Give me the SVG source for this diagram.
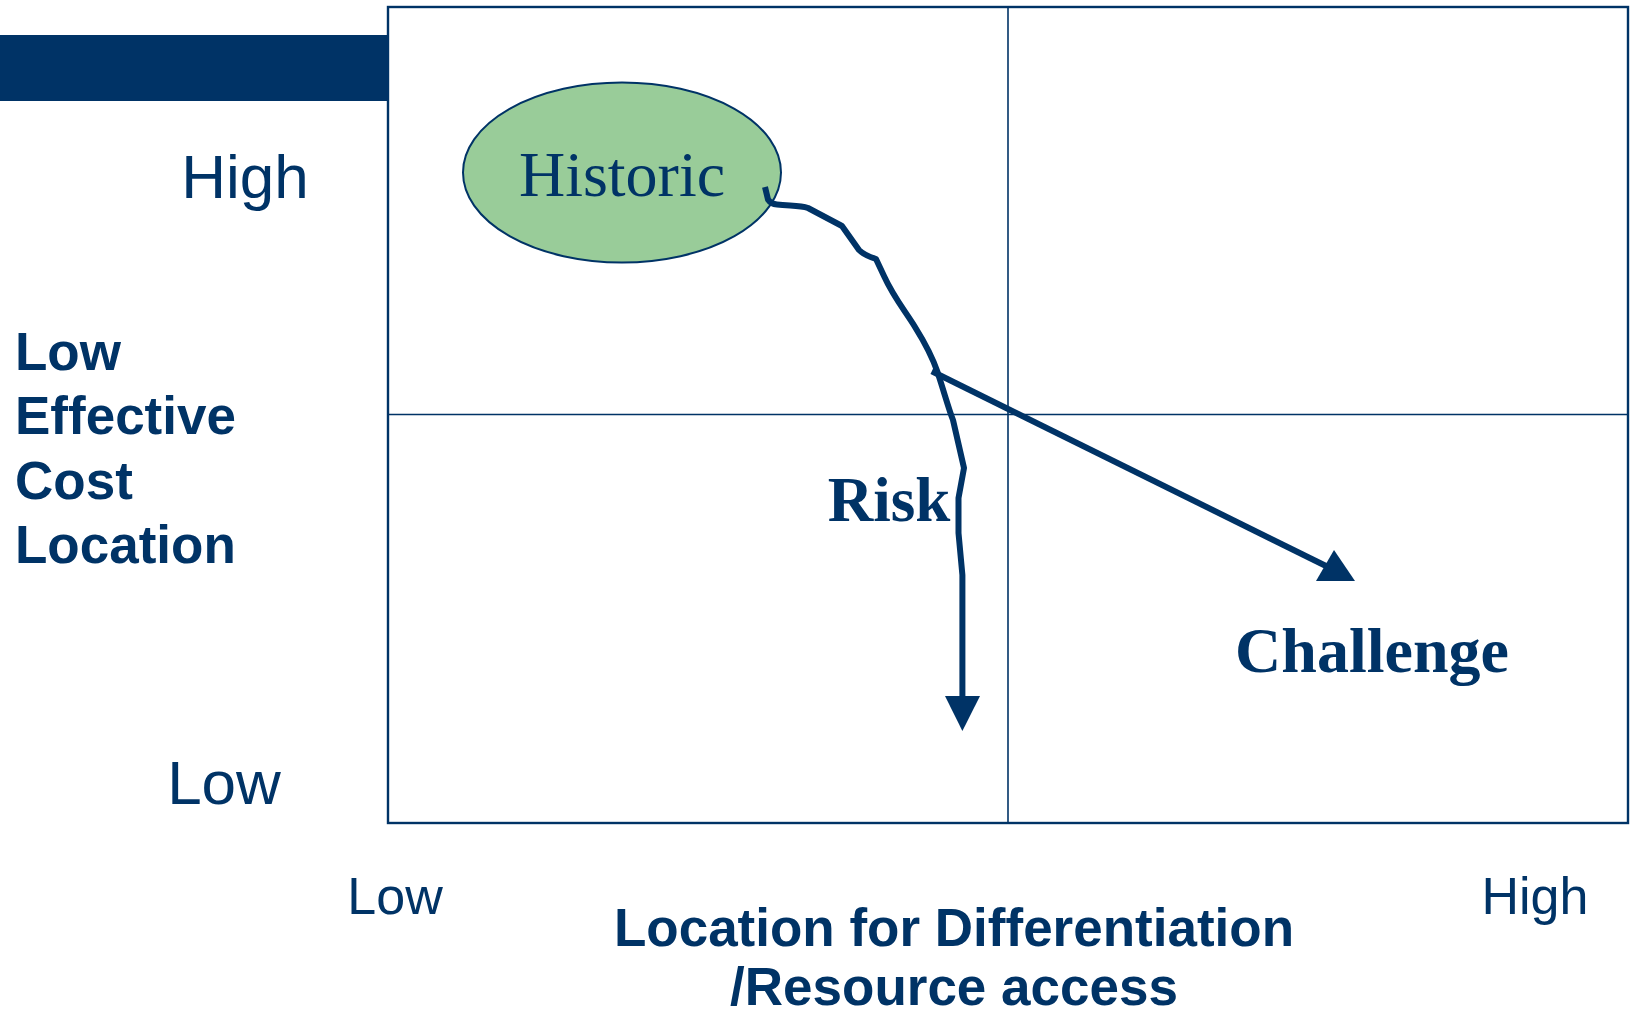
<svg xmlns="http://www.w3.org/2000/svg" width="1633" height="1011" viewBox="0 0 1633 1011">
<style>
.sans{font-family:"Liberation Sans",Arial,sans-serif;fill:#003366}
.serif{font-family:"Liberation Serif","Times New Roman",serif;fill:#003366}
.b{font-weight:bold}
.grid{stroke:#003366;fill:none}
.conn{stroke:#003366;stroke-width:6;fill:none;stroke-linejoin:round}
.head{fill:#003366}
</style>
<rect width="1633" height="1011" fill="#ffffff"/>
<rect id="bar" x="0" y="35" width="388" height="66" fill="#003366"/>
<g id="grid">
<rect class="grid" x="388" y="7" width="1240" height="816" stroke-width="2.4"/>
<line class="grid" x1="1008" y1="7" x2="1008" y2="823" stroke-width="1.6"/>
<line class="grid" x1="388" y1="414.5" x2="1628" y2="414.5" stroke-width="1.6"/>
</g>
<g id="axis-labels">
<text class="sans" x="245" y="198" font-size="62" text-anchor="middle">High</text>
<text class="sans" x="224" y="804" font-size="62" text-anchor="middle">Low</text>
<text class="sans b" font-size="53">
<tspan x="15" y="370">Low</tspan>
<tspan x="15" y="434">Effective</tspan>
<tspan x="15" y="499">Cost</tspan>
<tspan x="15" y="563">Location</tspan>
</text>
<text class="sans" x="395" y="914" font-size="52" text-anchor="middle">Low</text>
<text class="sans" x="1535" y="914" font-size="52" text-anchor="middle">High</text>
<text class="sans b" x="954" y="946" font-size="53" text-anchor="middle">Location for Differentiation</text>
<text class="sans b" x="954" y="1005" font-size="53" text-anchor="middle">/Resource access</text>
</g>
<g id="historic">
<ellipse cx="622" cy="172.5" rx="159" ry="90" fill="#99CC99" stroke="#003366" stroke-width="2"/>
<text class="serif" x="622" y="196" font-size="64" text-anchor="middle">Historic</text>
</g>
<g id="risk">
<text class="serif b" x="889" y="521" font-size="63" text-anchor="middle">Risk</text>
</g>
<g id="challenge">
<text class="serif b" x="1372" y="672" font-size="64" text-anchor="middle">Challenge</text>
</g>
<g id="connectors">
<path class="conn" d="M765,187 L768,199.5 Q771,204 777,204.5 C790,206 800,205 808,208 L842,226 L859,250 Q864,255 876,259 L884,276 C894,298 906,312 915,327 C925,343 932,356 937.5,372 C945,395 949,410 953,420 L964,468 L958.5,498 L958.5,533 L962.4,575 L962.4,700"/>
<polygon class="head" points="945,696 980,696 962.4,731"/>
<path class="conn" d="M931.8,371.2 L1326,566"/>
<polygon class="head" points="1316,581 1355,581 1334,550"/>
</g>
</svg>
